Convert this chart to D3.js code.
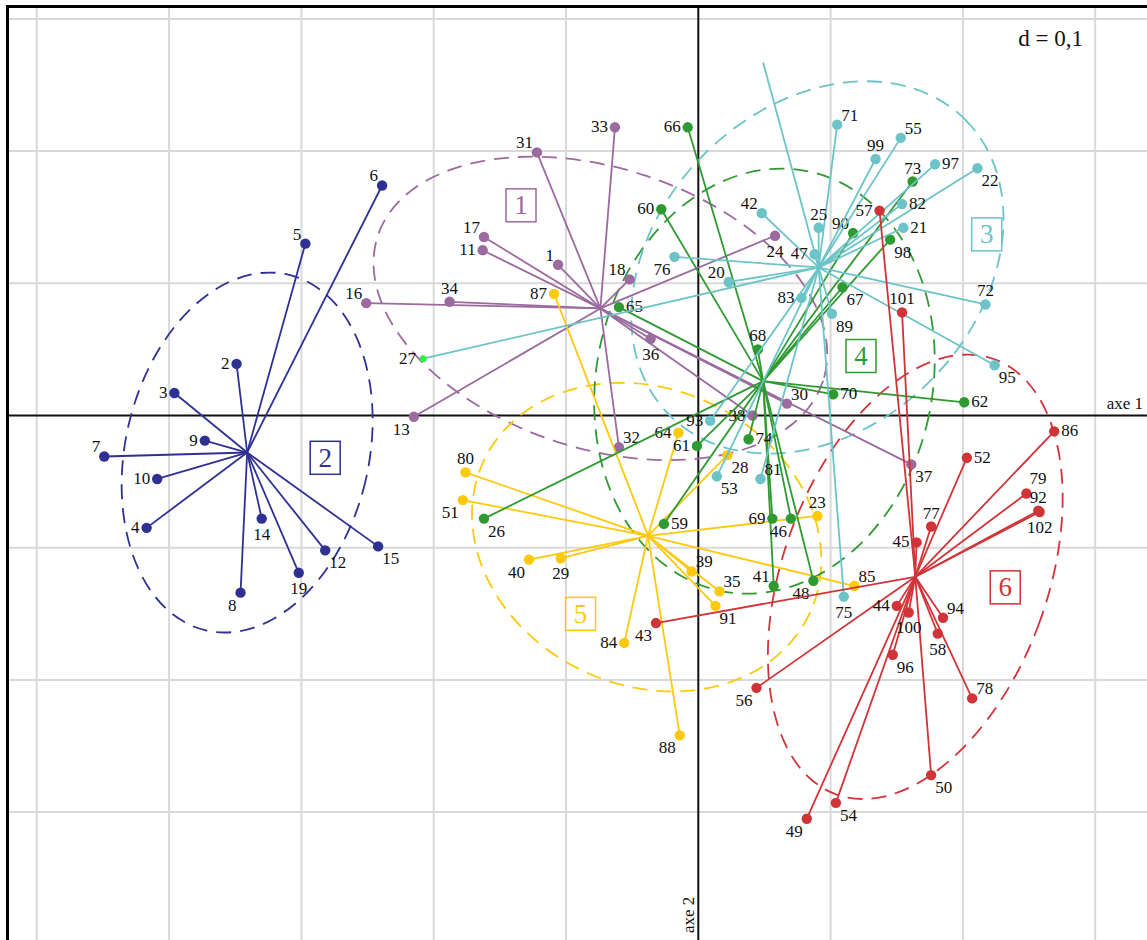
<!DOCTYPE html>
<html><head><meta charset="utf-8">
<script src="https://cdn.jsdelivr.net/npm/d3@7"></script>
<style>html,body{margin:0;padding:0;background:#fff;}svg{display:block;}</style>
</head><body>
<svg id="chart" width="1147" height="940"></svg>
<script>
// ---------- data ----------
const xTicks = [-0.5,-0.4,-0.3,-0.2,-0.1,0,0.1,0.2,0.3];
const yTicks = [-0.3,-0.2,-0.1,0,0.1,0.2,0.3];
const groupNames = ["1","2","3","4","5","6"];
const centerX = [-0.074,-0.341,0.091,0.049,-0.038,0.164];
const centerY = [0.081,-0.028,0.112,0.026,-0.091,-0.122];

const g1Ids = ["33","31","17","11","1","18","34","16","36","24","13","32","30","38","37"];
const g1X = [-0.063,-0.122,-0.162,-0.163,-0.106,-0.052,-0.188,-0.251,-0.036,0.058,-0.215,-0.060,0.067,0.041,0.161];
const g1Y = [0.218,0.199,0.135,0.125,0.114,0.103,0.086,0.085,0.058,0.136,-0.001,-0.024,0.009,0.000,-0.037];

const g2Ids = ["6","5","2","3","9","7","10","4","14","8","19","12","15"];
const g2X = [-0.239,-0.297,-0.349,-0.396,-0.373,-0.449,-0.409,-0.417,-0.330,-0.346,-0.302,-0.282,-0.242];
const g2Y = [0.174,0.130,0.039,0.017,-0.019,-0.031,-0.048,-0.085,-0.078,-0.134,-0.119,-0.102,-0.099];

const g3Ids = ["","71","55","99","97","22","82","21","42","25","47","76","20","83","89","72","95","27","93","53","81","75"];
const g3X = [0.049,0.105,0.153,0.134,0.179,0.211,0.154,0.155,0.048,0.091,0.088,-0.018,0.023,0.078,0.101,0.217,0.224,-0.208,0.009,0.014,0.047,0.110];
const g3Y = [0.267,0.220,0.210,0.194,0.190,0.187,0.160,0.142,0.153,0.142,0.122,0.120,0.101,0.089,0.077,0.084,0.038,0.043,-0.004,-0.046,-0.048,-0.137];

const g4Ids = ["66","60","73","90","98","67","65","68","70","62","74","61","59","26","69","46","41","48"];
const g4X = [-0.008,-0.028,0.162,0.117,0.145,0.109,-0.060,0.045,0.102,0.201,0.038,-0.001,-0.026,-0.162,0.056,0.070,0.057,0.087];
const g4Y = [0.218,0.156,0.177,0.138,0.133,0.097,0.082,0.050,0.016,0.010,-0.018,-0.023,-0.082,-0.078,-0.078,-0.078,-0.129,-0.125];

const g5Ids = ["87","64","28","80","51","40","29","39","35","91","84","23","85","88"];
const g5X = [-0.109,-0.015,0.022,-0.176,-0.178,-0.128,-0.104,-0.005,0.016,0.013,-0.056,0.090,0.118,-0.014];
const g5Y = [0.092,-0.013,-0.030,-0.043,-0.064,-0.109,-0.108,-0.118,-0.133,-0.144,-0.172,-0.076,-0.129,-0.242];

const g6Ids = ["57","101","86","52","79","92","102","77","45","44","100","94","58","96","78","50","54","49","56","43"];
const g6X = [0.137,0.154,0.269,0.203,0.248,0.257,0.258,0.176,0.165,0.150,0.159,0.185,0.181,0.147,0.207,0.176,0.104,0.082,0.044,-0.032];
const g6Y = [0.155,0.078,-0.012,-0.032,-0.059,-0.072,-0.073,-0.084,-0.096,-0.144,-0.149,-0.153,-0.165,-0.181,-0.214,-0.272,-0.293,-0.305,-0.206,-0.157];

// ellipse parameters (data units) per group
const ellCX = [-0.074,-0.341,0.090,0.050,-0.039,0.164];
const ellCY = [0.081,-0.028,0.112,0.026,-0.092,-0.122];
const ellRX = [0.177,0.092,0.158,0.127,0.136,0.100];
const ellRY = [0.106,0.138,0.121,0.162,0.112,0.175];
const ellRot = [18,13,-45,12,25,20];
// group label box positions (data units)
const boxX = [-0.134,-0.282,0.218,0.123,-0.089,0.232];
const boxY = [0.159,-0.032,0.137,0.045,-0.150,-0.130];

// ---------- layout / style ----------
const colors = ["#9b6a9f","#2e3192","#6cc4c8","#2f9a32","#fdc90c","#d03438"];
const labelPlace = {
 "6":"tl","5":"tl","2":"l","3":"l","9":"l","7":"tl","10":"l","4":"l","14":"b","8":"bl","19":"b","12":"br","15":"br",
 "33":"l","31":"tl","17":"tl","11":"l","1":"tl","18":"tl","34":"t","16":"tl","36":"b","24":"b","13":"bl","32":"tr","30":"tr","38":"l","37":"br",
 "71":"tr","55":"tr","99":"t","97":"r","22":"br","82":"r","21":"r","42":"tl","25":"t","47":"l","76":"bl","20":"tl","83":"l","89":"br","72":"t","95":"br","27":"l","93":"l","53":"br","81":"tr","75":"b",
 "66":"l","60":"l","73":"t","90":"tl","98":"br","67":"br","65":"r","68":"t","70":"r","62":"r","74":"r","61":"l","59":"r","26":"br","69":"l","46":"bl","41":"tl","48":"bl",
 "87":"l","64":"l","28":"br","80":"t","51":"bl","40":"bl","29":"b","39":"tr","35":"tr","91":"br","84":"l","23":"t","85":"tr","88":"bl",
 "57":"l","101":"t","86":"r","52":"r","79":"tt","92":"t","102":"b","77":"t","45":"l","44":"l","100":"b","94":"tr","58":"b","96":"br","78":"tr","50":"br","54":"br","49":"bl","56":"bl","43":"bl"
};
const placeDef = {
  l:{a:"end",dx:-7,dy:5}, r:{a:"start",dx:7,dy:5}, t:{a:"middle",dx:0,dy:-8}, b:{a:"middle",dx:0,dy:21},
  tl:{a:"end",dx:-4,dy:-4}, tr:{a:"start",dx:4,dy:-4}, bl:{a:"end",dx:-4,dy:18}, br:{a:"start",dx:4,dy:18},
  tt:{a:"start",dx:3,dy:-9}
};
const specialColor = {"27":"#33ee44"};

const W = 1147, H = 940;
const x = d3.scaleLinear().domain([-0.5,0.3]).range([36.8,1095.2]);
const y = d3.scaleLinear().domain([-0.3,0.3]).range([812.1,18.9]);
const FONT = "'Liberation Serif','Times New Roman',serif";

const svg = d3.select("#chart");
svg.append("rect").attr("width",W).attr("height",H).attr("fill","#fff");

// grid
const grid = svg.append("g");
grid.selectAll("line.gx").data(xTicks.filter(d=>d!==0)).join("line")
  .attr("x1",d=>x(d)).attr("x2",d=>x(d)).attr("y1",6).attr("y2",H)
  .attr("stroke","#d9d9d9").attr("stroke-width",2);
grid.selectAll("line.gy").data(yTicks.filter(d=>d!==0)).join("line")
  .attr("y1",d=>y(d)).attr("y2",d=>y(d)).attr("x1",8).attr("x2",W)
  .attr("stroke","#d9d9d9").attr("stroke-width",2);

// axes
svg.append("line").attr("x1",8).attr("x2",W).attr("y1",y(0)).attr("y2",y(0)).attr("stroke","#111").attr("stroke-width",2);
svg.append("line").attr("x1",x(0)).attr("x2",x(0)).attr("y1",6).attr("y2",H).attr("stroke","#111").attr("stroke-width",2);
// frame
svg.append("line").attr("x1",7.5).attr("x2",7.5).attr("y1",5).attr("y2",H).attr("stroke","#000").attr("stroke-width",3);
svg.append("line").attr("x1",6).attr("x2",W).attr("y1",6.5).attr("y2",6.5).attr("stroke","#000").attr("stroke-width",3);

svg.append("text").attr("x",1143).attr("y",y(0)-7).attr("text-anchor","end")
  .attr("font-family",FONT).attr("font-size",17).attr("fill","#111").text("axe 1");
svg.append("text").attr("transform",`translate(${x(0)-4},933) rotate(-90)`).attr("text-anchor","start")
  .attr("font-family",FONT).attr("font-size",17).attr("fill","#111").text("axe 2");
svg.append("text").attr("x",1083).attr("y",46).attr("text-anchor","end")
  .attr("font-family",FONT).attr("font-size",23).attr("fill","#111").text("d = 0,1");

const groupsData = [
  {ids:g1Ids,xs:g1X,ys:g1Y},{ids:g2Ids,xs:g2X,ys:g2Y},{ids:g3Ids,xs:g3X,ys:g3Y},
  {ids:g4Ids,xs:g4X,ys:g4Y},{ids:g5Ids,xs:g5X,ys:g5Y},{ids:g6Ids,xs:g6X,ys:g6Y}
];
const unit = x(1)-x(0);
const order = [1,0,4,3,2,5];

// ellipses first
order.forEach(gi=>{
  const cx = x(ellCX[gi]), cy = y(ellCY[gi]);
  svg.append("ellipse").attr("cx",cx).attr("cy",cy)
    .attr("rx",ellRX[gi]*unit).attr("ry",ellRY[gi]*unit)
    .attr("transform",`rotate(${ellRot[gi]},${cx},${cy})`)
    .attr("fill","none").attr("stroke",colors[gi]).attr("stroke-width",1.8)
    .attr("stroke-dasharray","15,9");
});

order.forEach(gi=>{
  const g = groupsData[gi];
  const col = colors[gi];
  const pts = g.ids.map((id,i)=>({id, vx:g.xs[i], vy:g.ys[i]}));
  const cx = x(centerX[gi]), cy = y(centerY[gi]);
  const layer = svg.append("g");
  layer.selectAll("line").data(pts).join("line")
    .attr("x1",cx).attr("y1",cy).attr("x2",d=>x(d.vx)).attr("y2",d=>y(d.vy))
    .attr("stroke",col).attr("stroke-width",1.8);
  layer.selectAll("circle").data(pts.filter(d=>d.id!=="")).join("circle")
    .attr("cx",d=>x(d.vx)).attr("cy",d=>y(d.vy))
    .attr("r",d=>specialColor[d.id]?3.5:5.2)
    .attr("fill",d=>specialColor[d.id]||col);
  layer.selectAll("text").data(pts.filter(d=>d.id!=="")).join("text")
    .each(function(d){
      const p = placeDef[labelPlace[d.id]||"r"];
      d3.select(this).attr("x",x(d.vx)+p.dx).attr("y",y(d.vy)+p.dy).attr("text-anchor",p.a);
    })
    .attr("font-family",FONT).attr("font-size",17).attr("fill","#111").text(d=>d.id);
  // group label box
  const bx = x(boxX[gi]), by = y(boxY[gi]);
  layer.append("rect").attr("x",bx-15).attr("y",by-16.5).attr("width",30).attr("height",33)
    .attr("fill","#fff").attr("fill-opacity",0.6).attr("stroke",col).attr("stroke-width",1.5);
  layer.append("text").attr("x",bx).attr("y",by+9).attr("text-anchor","middle")
    .attr("font-family",FONT).attr("font-size",27).attr("fill",col).text(groupNames[gi]);
});
</script>
</body></html>
